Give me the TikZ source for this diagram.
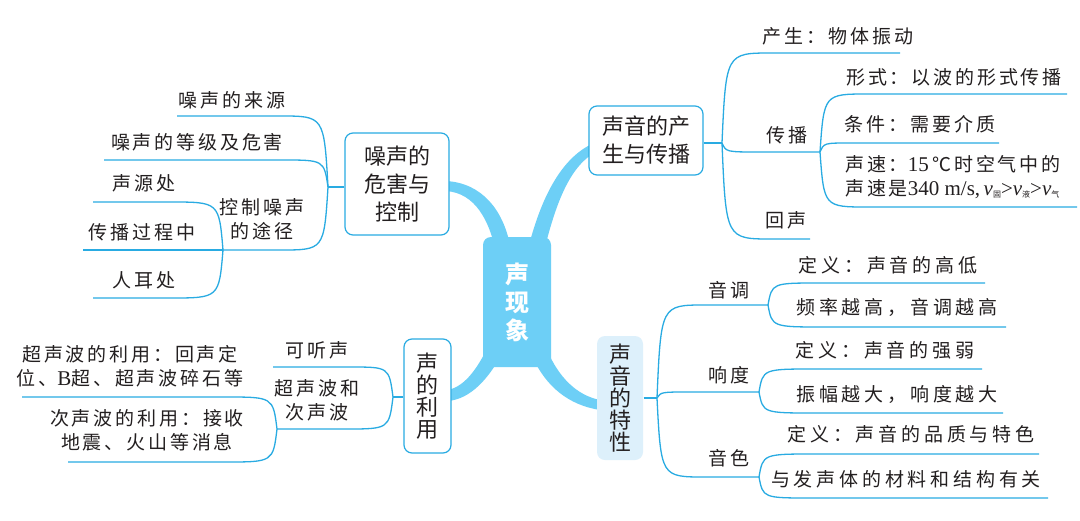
\documentclass[tikz,border=0pt]{standalone}
\usepackage{fontspec}
\usetikzlibrary{calc}
\newfontfamily\cjk{Noto Sans CJK SC}
\newfontfamily\cjkl[LetterSpace=15]{Noto Sans CJK SC}
\newfontfamily\cjkw[LetterSpace=20]{Noto Sans CJK SC}
\newfontfamily\lat{Liberation Serif}
\definecolor{lnc}{HTML}{29ABE2}
\definecolor{brc}{HTML}{6DCFF6}
\definecolor{pale}{HTML}{DDF0FB}
\definecolor{ink}{HTML}{231F20}
\tikzset{
  ln/.style={draw=lnc, line width=1.3pt},
  box/.style={draw=lnc, line width=1.2pt, fill=white, rounded corners=8pt, inner sep=0pt,
    font=\cjk\fontsize{22}{28}\selectfont, text=ink, align=center},
  vbox/.style={box, font=\cjk\fontsize{22}{22}\selectfont},
  leaf/.style={font=\cjkl\fontsize{19}{24}\selectfont, text=ink, inner sep=0pt, align=center},
  leafw/.style={leaf, font=\cjkw\fontsize{19}{24}\selectfont},
}
\newcommand\brR[4]{\draw[ln] (#1) .. controls ($(#1|-0,#3)+(4,0)$) .. (#2,#3) -- (#4,#3);}
\newcommand\brL[4]{\draw[ln] (#1) .. controls ($(#1|-0,#3)+(-4,0)$) .. (#2,#3) -- (#4,#3);}
\newcommand\lt[1]{{\lat\fontsize{21}{24}\selectfont #1}}
\newcommand\sbs[1]{\raisebox{-2pt}{\cjk\fontsize{8}{8}\selectfont #1}}
\begin{document}
\begin{tikzpicture}[x=1pt,y=-1pt]
\useasboundingbox (0,0) rectangle (1080,520);
\fill[white] (0,0) rectangle (1080,520);
% thick main branches
\fill[brc] (446,181) .. controls (482,183) and (503,210) .. (510,245) -- (495,248) .. controls (489,222) and (476,193) .. (446,191) -- cycle;
\fill[brc] (529,245) .. controls (541,200) and (560,158) .. (594,143) -- (594,153) .. controls (569,168) and (556,204) .. (545,247) -- cycle;
\fill[brc] (448,390) .. controls (466,386) and (478,367) .. (489,345) -- (503,352) .. controls (488,380) and (470,399) .. (448,401) -- cycle;
\fill[brc] (533,358) .. controls (546,386) and (568,405) .. (600,410) -- (600,400) .. controls (575,395) and (558,375) .. (548,352) -- cycle;
% boxes
\node[box, fill=brc, draw=none, minimum width=68pt, minimum height=130pt,
  font=\cjk\bfseries\fontsize{24}{28}\selectfont, text=white] (C) at (517,302) {声\\现\\象};
\node[box, minimum width=104pt, minimum height=102pt] (N) at (397,184) {噪声的\\危害与\\控制};
\node[box, minimum width=114pt, minimum height=69pt] (P) at (646,140.5) {声音的产\\生与传播};
\node[vbox, minimum width=47pt, minimum height=114pt] (U) at (427.5,396) {声\\的\\利\\用};
\node[vbox, fill=pale, draw=none, minimum width=46pt, minimum height=124pt] (Q) at (620,398) {声\\音\\的\\特\\性};
% split points
\coordinate (sP) at (722,143);
\coordinate (sT) at (820,152);
\coordinate (sQ) at (657,398);
\coordinate (sY) at (768,305);
\coordinate (sX) at (759,392);
\coordinate (sZ) at (759,477);
\coordinate (sN) at (328,187);
\coordinate (sC) at (223,250);
\coordinate (sU) at (393,397);
\coordinate (sV) at (277,429);
% stems
\draw[ln] (P.east |- sP) -- (sP);
\draw[ln] (Q.east |- sQ) -- (sQ);
\draw[ln] (N.west |- sN) -- (sN);
\draw[ln] (U.west |- sU) -- (sU);
% right thin branches
\brR{sP}{772}{53}{900}
\brR{sP}{760}{152}{820}
\brR{sP}{772}{239}{810}
\brR{sT}{868}{94}{1067}
\brR{sT}{850}{143}{999}
\brR{sT}{868}{207}{1077}
\brR{sQ}{705}{305}{768}
\brR{sQ}{690}{392}{759}
\brR{sQ}{705}{477}{759}
\brR{sY}{820}{283}{985}
\brR{sY}{825}{327}{1006}
\brR{sX}{815}{369}{982}
\brR{sX}{815}{413}{1003}
\brR{sZ}{815}{454}{1039}
\brR{sZ}{812}{498}{1048}
% left thin branches
\brL{sN}{280}{116}{177}
\brL{sN}{282}{160}{104}
\brL{sN}{280}{250}{223}
\brL{sC}{170}{202}{93}
\brL{sC}{170}{250}{83}
\brL{sC}{170}{298}{93}
\brL{sU}{350}{367}{273}
\brL{sU}{345}{429}{277}
\brL{sV}{225}{397}{22}
\brL{sV}{225}{462}{68}
% right labels
\node[leaf] (p1) at (838,36) {产生：物体振动};
\node[leaf] (p2) at (787,135) {传播};
\node[leaf] (p3) at (786,220) {回声};
\node[leaf] (t1) at (954,77) {形式：以波的形式传播};
\node[leaf] (t2) at (920,124) {条件：需要介质};
\node[leaf, align=left, anchor=west] (t3) at (845,177) {声速：\lt{15\,}℃时空气中的\\声速是\lt{340 m/s,\,\itshape v}\sbs{固}\lt{>\itshape v}\sbs{液}\lt{>\itshape v}\sbs{气}};
\node[leaf] (q1) at (729,290) {音调};
\node[leaf] (q2) at (729,375) {响度};
\node[leaf] (q3) at (729,458) {音色};
\node[leafw] (y1) at (888,265) {定义：声音的高低};
\node[leafw] (y2) at (897,307) {频率越高，音调越高};
\node[leafw] (x1) at (885,350) {定义：声音的强弱};
\node[leafw] (x2) at (897,394) {振幅越大，响度越大};
\node[leafw] (z1) at (911,434) {定义：声音的品质与特色};
\node[leafw] (z2) at (906,479) {与发声体的材料和结构有关};
% left labels
\node[leaf] (n1) at (232,100) {噪声的来源};
\node[leaf] (n2) at (197,142) {噪声的等级及危害};
\node[leaf] (n3) at (262,219) {控制噪声\\的途径};
\node[leaf] (c1) at (144,183) {声源处};
\node[leaf] (c2) at (142,232) {传播过程中};
\node[leaf] (c3) at (144,280) {人耳处};
\node[leaf] (u1) at (317,350) {可听声};
\node[leaf] (u2) at (317,400) {超声波和\\次声波};
\node[leaf] (v1) at (130,366) {超声波的利用：回声定\\位、\lt{B}超、超声波碎石等};
\node[leaf] (v2) at (147,430) {次声波的利用：接收\\地震、火山等消息};
\end{tikzpicture}
\end{document}
